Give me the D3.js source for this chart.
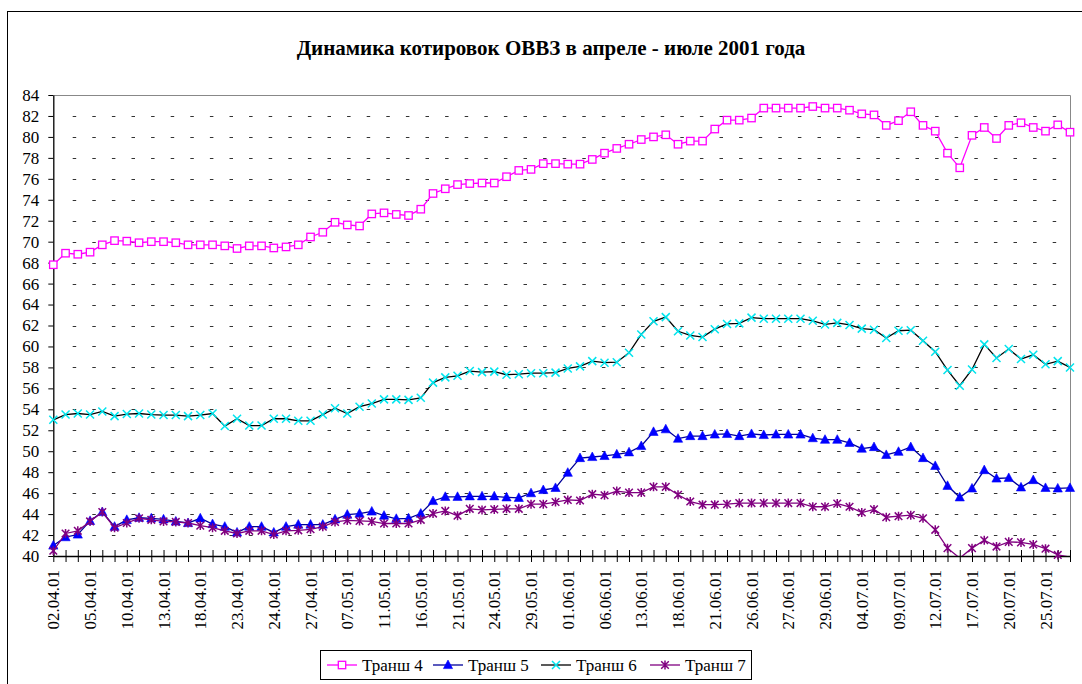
<!DOCTYPE html>
<html>
<head>
<meta charset="utf-8">
<script src="https://cdn.jsdelivr.net/npm/d3@7"></script>
<style>
  body { margin: 0; background: #fff; }
</style>
</head>
<body>
<div id="root"></div>
<script>
const title = "Динамика котировок ОВВЗ в апреле - июле 2001 года";

const tickLabels = [
  "02.04.01", "05.04.01", "10.04.01", "13.04.01", "18.04.01", "23.04.01", "24.04.01",
  "27.04.01", "07.05.01", "11.05.01", "16.05.01", "21.05.01", "24.05.01", "29.05.01",
  "01.06.01", "06.06.01", "13.06.01", "18.06.01", "21.06.01", "26.06.01", "27.06.01",
  "29.06.01", "04.07.01", "09.07.01", "12.07.01", "17.07.01", "20.07.01", "25.07.01"
];

const yTicks = [40, 42, 44, 46, 48, 50, 52, 54, 56, 58, 60, 62, 64, 66, 68, 70, 72, 74, 76, 78, 80, 82, 84];

const seriesNames = ["Транш 4", "Транш 5", "Транш 6", "Транш 7"];

const transh4 = [
  67.8, 68.9, 68.8, 69.0, 69.7, 70.1, 70.05, 69.9, 70.0, 70.0, 69.9, 69.7, 69.7, 69.7,
  69.6, 69.35, 69.6, 69.6, 69.4, 69.5, 69.7, 70.45, 70.9, 71.85, 71.6, 71.5, 72.65, 72.75,
  72.6, 72.5, 73.1, 74.6, 75.05, 75.45, 75.55, 75.6, 75.6, 76.2, 76.8, 76.9, 77.45, 77.45,
  77.4, 77.4, 77.85, 78.45, 78.9, 79.3, 79.75, 80.0, 80.2, 79.3, 79.6, 79.6, 80.75, 81.6,
  81.6, 81.8, 82.75, 82.75, 82.75, 82.75, 82.9, 82.75, 82.75, 82.55, 82.2, 82.1, 81.1, 81.55,
  82.4, 81.1, 80.55, 78.45, 77.05, 80.15, 80.9, 79.85, 81.1, 81.35, 80.9, 80.55, 81.15, 80.45
];

const transh5 = [
  41.0, 41.8, 42.05, 43.35, 44.2, 42.8, 43.45, 43.65, 43.6, 43.5, 43.3, 43.15, 43.6, 43.05,
  42.8, 42.25, 42.8, 42.8, 42.25, 42.8, 43.0, 43.0, 43.0, 43.5, 43.95, 44.05, 44.25, 43.85,
  43.55, 43.6, 44.05, 45.25, 45.65, 45.65, 45.7, 45.7, 45.7, 45.6, 45.55, 46.0, 46.3, 46.5,
  47.95, 49.35, 49.45, 49.55, 49.7, 49.9, 50.5, 51.85, 52.1, 51.2, 51.45, 51.45, 51.6, 51.65,
  51.45, 51.65, 51.55, 51.6, 51.6, 51.6, 51.25, 51.1, 51.1, 50.8, 50.25, 50.4, 49.65, 49.95,
  50.4, 49.35, 48.6, 46.7, 45.6, 46.45, 48.2, 47.4, 47.45, 46.55, 47.25, 46.5, 46.45, 46.5
];

const transh6 = [
  53.0, 53.5, 53.6, 53.5, 53.8, 53.35, 53.55, 53.6, 53.5, 53.45, 53.45, 53.35, 53.45, 53.6,
  52.4, 53.1, 52.45, 52.45, 53.1, 53.1, 52.9, 52.9, 53.5, 54.1, 53.6, 54.25, 54.55, 54.95,
  54.95, 54.9, 55.1, 56.55, 57.05, 57.2, 57.65, 57.55, 57.6, 57.3, 57.35, 57.45, 57.45, 57.5,
  57.9, 58.1, 58.6, 58.45, 58.5, 59.4, 61.15, 62.4, 62.8, 61.45, 61.05, 60.9, 61.65, 62.15,
  62.2, 62.75, 62.65, 62.65, 62.65, 62.65, 62.45, 62.1, 62.25, 62.05, 61.7, 61.6, 60.8, 61.5,
  61.55, 60.55, 59.5, 57.75, 56.25, 57.8, 60.2, 58.9, 59.75, 58.8, 59.2, 58.3, 58.6, 58.0
];

const transh7 = [
  40.5, 42.15, 42.4, 43.3, 44.2, 42.7, 43.15, 43.6, 43.45, 43.3, 43.25, 43.15, 42.9, 42.7,
  42.4, 42.15, 42.4, 42.4, 42.05, 42.4, 42.45, 42.55, 42.8, 43.25, 43.4, 43.35, 43.3, 43.1,
  43.1, 43.1, 43.45, 44.05, 44.3, 43.85, 44.5, 44.4, 44.45, 44.5, 44.5, 44.95, 44.95, 45.15,
  45.35, 45.3, 45.9, 45.8, 46.2, 46.05, 46.05, 46.6, 46.6, 45.85, 45.2, 44.9, 44.9, 44.95,
  45.05, 45.05, 45.05, 45.05, 45.05, 45.05, 44.7, 44.7, 45.0, 44.7, 44.15, 44.45, 43.7, 43.8,
  43.9, 43.6, 42.5, 40.75, 39.8, 40.75, 41.5, 40.9, 41.35, 41.3, 41.1, 40.7, 40.1, 39.9
];

const allData = [transh4, transh5, transh6, transh7];

const width = 1082;
const height = 684;
const plot = { left: 53.3, right: 1070, top: 95, bottom: 556 };
const serif = "'Liberation Serif', 'Times New Roman', serif";

let svg = d3.select("#root")
  .append("svg")
  .attr("width", width)
  .attr("height", height)
  .style("font-family", serif);

// chart area border (runs off the picture on the right and bottom)
svg.append("rect")
  .attr("x", 7.5)
  .attr("y", 11.5)
  .attr("width", 1090)
  .attr("height", 700)
  .attr("fill", "#fff")
  .attr("stroke", "#000")
  .attr("stroke-width", 1);

svg.append("text")
  .attr("x", 551)
  .attr("y", 55)
  .attr("text-anchor", "middle")
  .style("font-family", serif)
  .style("font-size", "21px")
  .style("font-weight", "bold")
  .text(title);

let x = d3.scaleLinear()
  .domain([0, transh4.length - 1])
  .range([plot.left, plot.right]);

let y = d3.scaleLinear()
  .domain([40, 84])
  .range([plot.bottom, plot.top]);

// dashed gridlines
svg.append("g")
  .selectAll("line")
  .data(yTicks.filter(d => d > 40 && d < 84))
  .enter()
  .append("line")
  .attr("x1", plot.left + 19.4)
  .attr("x2", plot.right)
  .attr("y1", d => Math.round(y(d)) + 0.5)
  .attr("y2", d => Math.round(y(d)) + 0.5)
  .attr("stroke", "#333")
  .attr("stroke-width", 1)
  .attr("stroke-dasharray", "3.5,16.1");

// plot area frame: grey top and right
svg.append("path")
  .attr("d", `M${plot.left},${plot.top + 0.5}H${plot.right + 0.5}V${plot.bottom}`)
  .attr("fill", "none")
  .attr("stroke", "#888")
  .attr("stroke-width", 1);

// y axis
let yAxis = svg.append("g")
  .attr("transform", "translate(" + plot.left + ",0)")
  .call(d3.axisLeft(y).tickValues(yTicks).tickSize(5).tickPadding(9).tickSizeOuter(0));
yAxis.attr("font-family", null).attr("font-size", null);
yAxis.select(".domain").attr("stroke-width", 1.3);
yAxis.selectAll("text")
  .style("font-family", serif)
  .style("font-size", "17px")
  .attr("fill", "#000");

// x axis with crossing ticks at every point
let xAxis = svg.append("g")
  .attr("transform", "translate(0," + plot.bottom + ")")
  .call(d3.axisBottom(x).tickValues(d3.range(transh4.length)).tickSize(6).tickSizeOuter(0).tickFormat(""));
xAxis.select(".domain").attr("stroke-width", 1.3);
xAxis.selectAll(".tick line").attr("y1", -6).attr("stroke-width", 1);

svg.append("g")
  .selectAll("text")
  .data(tickLabels)
  .enter()
  .append("text")
  .attr("transform", (d, i) => "translate(" + (x(i * 3) + 6) + "," + (plot.bottom + 14) + ") rotate(-90)")
  .attr("text-anchor", "end")
  .style("font-family", serif)
  .style("font-size", "17px")
  .text(d => d);

// series
const lineColors = ["#ff00ff", "#000099", "#000000", "#800080"];
const markColors = ["#ff00ff", "#0000ff", "#00e5ee", "#800080"];

svg.append("clipPath")
  .attr("id", "plot-clip")
  .append("rect")
  .attr("x", plot.left - 10)
  .attr("y", plot.top - 10)
  .attr("width", plot.right - plot.left + 20)
  .attr("height", plot.bottom - plot.top + 10);

let line = d3.line()
  .x((d, i) => x(i))
  .y(d => y(d));

const drawMarker = (g, idx, cx, cy) => {
  let c = markColors[idx];
  if (idx === 0) {
    g.append("rect")
      .attr("x", cx - 3.7).attr("y", cy - 3.7)
      .attr("width", 7.4).attr("height", 7.4)
      .attr("fill", "#fff").attr("stroke", c).attr("stroke-width", 1.3);
  } else if (idx === 1) {
    g.append("path")
      .attr("d", `M${cx},${cy - 5}L${cx + 4.6},${cy + 3.6}L${cx - 4.6},${cy + 3.6}Z`)
      .attr("fill", c).attr("stroke", c).attr("stroke-width", 0.6);
  } else if (idx === 2) {
    g.append("path")
      .attr("d", `M${cx - 4},${cy - 4}L${cx + 4},${cy + 4}M${cx - 4},${cy + 4}L${cx + 4},${cy - 4}`)
      .attr("stroke", c).attr("stroke-width", 1.5);
  } else {
    g.append("path")
      .attr("d", `M${cx - 3.8},${cy - 3.8}L${cx + 3.8},${cy + 3.8}M${cx - 3.8},${cy + 3.8}L${cx + 3.8},${cy - 3.8}M${cx},${cy - 4.5}V${cy + 4.5}`)
      .attr("stroke", c).attr("stroke-width", 1.5);
  }
};

allData.forEach((data, idx) => {
  let g = svg.append("g").attr("clip-path", "url(#plot-clip)");
  g.append("path")
    .datum(data)
    .attr("d", line)
    .attr("fill", "none")
    .attr("stroke", lineColors[idx])
    .attr("stroke-width", 1.3);
  let m = svg.append("g");
  data.forEach((d, i) => {
    if (d >= 40 && d <= 84) drawMarker(m, idx, x(i), y(d));
  });
});

// legend
let legend = svg.append("g");
legend.append("rect")
  .attr("x", 320.5)
  .attr("y", 650.5)
  .attr("width", 431)
  .attr("height", 29)
  .attr("fill", "#fff")
  .attr("stroke", "#000")
  .attr("stroke-width", 1);

const legendX = [327, 433, 541, 650];
seriesNames.forEach((name, idx) => {
  let lx = legendX[idx];
  let ly = 665;
  legend.append("line")
    .attr("x1", lx).attr("x2", lx + 30)
    .attr("y1", ly).attr("y2", ly)
    .attr("stroke", lineColors[idx])
    .attr("stroke-width", 1.3);
  drawMarker(legend, idx, lx + 15, ly);
  legend.append("text")
    .attr("x", lx + 35)
    .attr("y", ly + 6)
    .style("font-family", serif)
    .style("font-size", "17px")
    .text(name);
});
</script>
</body>
</html>
